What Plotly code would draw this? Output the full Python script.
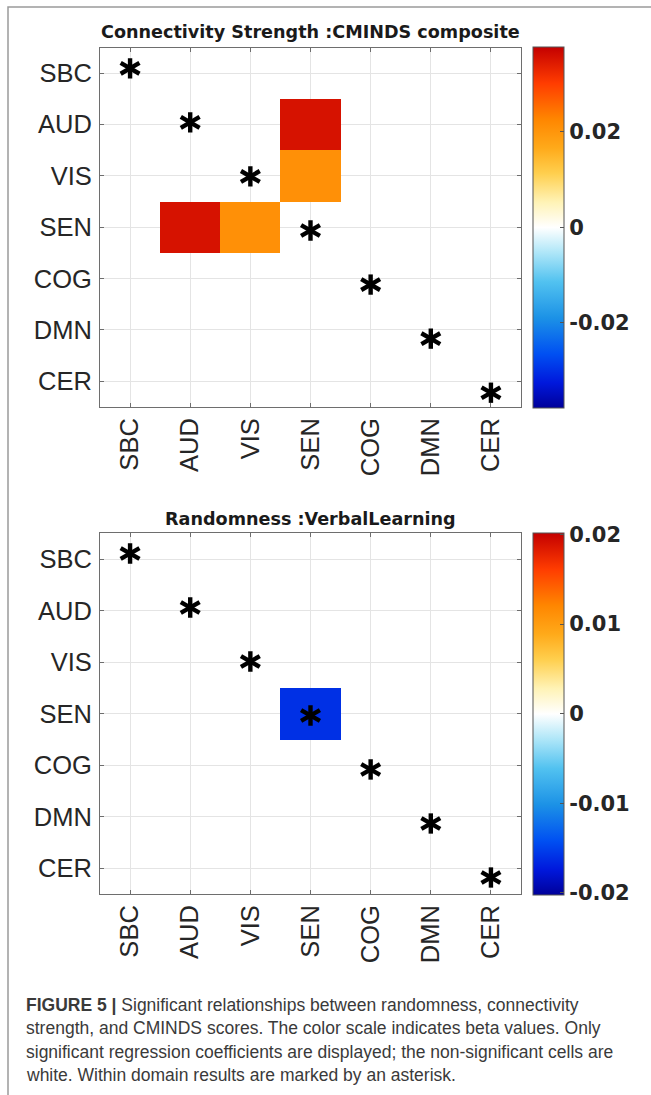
import plotly.graph_objects as go

W, H = 651, 1095

categories = ["SBC", "AUD", "VIS", "SEN", "COG", "DMN", "CER"]

# Beta values (rows = y categories top->bottom, cols = x categories); None = not significant
top_title = "Connectivity Strength :CMINDS composite"
top_values = [
    [None, None, None, None, None, None, None],
    [None, None, None, 0.0355, None, None, None],
    [None, None, None, 0.0210, None, None, None],
    [None, 0.0355, 0.0210, None, None, None, None],
    [None, None, None, None, None, None, None],
    [None, None, None, None, None, None, None],
    [None, None, None, None, None, None, None],
]
top_zlim = 0.0378
top_cb_ticks = [-0.02, 0, 0.02]
top_cb_labels = ["-0.02", "0", "0.02"]

bottom_title = "Randomness :VerbalLearning"
bottom_values = [
    [None, None, None, None, None, None, None],
    [None, None, None, None, None, None, None],
    [None, None, None, None, None, None, None],
    [None, None, None, -0.0160, None, None, None],
    [None, None, None, None, None, None, None],
    [None, None, None, None, None, None, None],
    [None, None, None, None, None, None, None],
]
bottom_zlim = 0.0202
bottom_cb_ticks = [-0.02, -0.01, 0, 0.01, 0.02]
bottom_cb_labels = ["-0.02", "-0.01", "0", "0.01", "0.02"]

# within-domain (diagonal) markers
diag_idx = list(range(len(categories)))

caption_lines = [
    "<b>FIGURE 5 |</b> Significant relationships between randomness, connectivity",
    "strength, and CMINDS scores. The color scale indicates beta values. Only",
    "significant regression coefficients are displayed; the non-significant cells are",
    "white. Within domain results are marked by an asterisk.",
]

colorscale = [
    [0.00, "#00009A"],
    [0.07, "#0018DC"],
    [0.15, "#0050F2"],
    [0.25, "#1C92E6"],
    [0.35, "#52C2F0"],
    [0.43, "#AEE6F8"],
    [0.50, "#FFFFFF"],
    [0.57, "#FFF3B6"],
    [0.65, "#FFCF4E"],
    [0.72, "#FFAA1A"],
    [0.80, "#FF8600"],
    [0.90, "#FF3C00"],
    [1.00, "#C40000"],
]

def px_x(p):
    return p / W

def px_y(p):
    return 1 - p / H

FONT = "Liberation Sans, Arial, sans-serif"
WIDE = "DejaVu Sans, Liberation Sans, sans-serif"
TXT = "#262626"

panels = [
    dict(values=top_values, zlim=top_zlim, ticks=top_cb_ticks, labels=top_cb_labels,
         title=top_title, top=47.5, bottom=407.0, title_y=32.0,
         star_top=68.3, star_step=54.07, xa="x", ya="y", ya_star="y3"),
    dict(values=bottom_values, zlim=bottom_zlim, ticks=bottom_cb_ticks, labels=bottom_cb_labels,
         title=bottom_title, top=533.3, bottom=894.0, title_y=519.0,
         star_top=553.5, star_step=54.0, xa="x2", ya="y2", ya_star="y4"),
]

plot_left, plot_right = 100.0, 521.0
cb_left, cb_thick = 533.0, 31

fig = go.Figure()
layout_axes = {}
annotations = []

for k, p in enumerate(panels):
    fig.add_trace(go.Heatmap(
        z=p["values"], x=diag_idx, y=diag_idx,
        xaxis=p["xa"], yaxis=p["ya"],
        colorscale=colorscale, zmin=-p["zlim"], zmax=p["zlim"],
        hoverongaps=False,
        colorbar=dict(
            x=px_x(cb_left), xanchor="left", xpad=0, ypad=0,
            y=px_y((p["top"] + p["bottom"]) / 2), yanchor="middle",
            len=p["bottom"] - p["top"] + 1, lenmode="pixels",
            thickness=cb_thick, thicknessmode="pixels",
            tickvals=p["ticks"], ticktext=p["labels"],
            tickfont=dict(family=WIDE, size=21, color=TXT, weight="bold"),
            ticks="inside", ticklen=4, tickcolor="#555555",
            outlinecolor="#555555", outlinewidth=1,
        ),
    ))
    # asterisks on an overlaying axis
    for ang, sz in [(0, 14.5), (60, 15.5), (-60, 15.5)]:
        fig.add_trace(go.Scatter(
            x=diag_idx, y=diag_idx, mode="markers",
            xaxis=p["xa"], yaxis=p["ya_star"],
            marker=dict(symbol="line-ns-open", size=sz, angle=ang, color="black",
                        line=dict(color="black", width=4.4)),
            hoverinfo="skip", showlegend=False,
        ))

    ydom = [px_y(p["bottom"]), px_y(p["top"])]
    axname_x = "xaxis" if p["xa"] == "x" else "xaxis2"
    axname_y = "yaxis" if p["ya"] == "y" else "yaxis2"
    axname_s = "yaxis3" if p["ya_star"] == "y3" else "yaxis4"
    common = dict(
        tickvals=diag_idx, ticktext=categories,
        tickfont=dict(family=FONT, size=25.5, color=TXT),
        showgrid=True, gridcolor="#E4E4E4", gridwidth=1,
        showline=True, linecolor="#6E6E6E", linewidth=1, mirror="ticks",
        ticks="inside", ticklen=4, tickcolor="#6E6E6E",
        zeroline=False, fixedrange=True,
    )
    layout_axes[axname_x] = dict(common, domain=[px_x(plot_left), px_x(plot_right)],
                                 anchor=p["ya"], range=[-0.5, 6.5], tickangle=-90,
                                 ticklabelstandoff=0)
    layout_axes[axname_y] = dict(common, domain=ydom, anchor=p["xa"],
                                 range=[6.5, -0.5], ticklabelstandoff=2)
    # star axis range so that marker i sits at star_top + i*star_step pixels
    span = (p["bottom"] - p["top"]) / p["star_step"]
    r0 = -(p["star_top"] - p["top"]) / p["star_step"]
    layout_axes[axname_s] = dict(overlaying=p["ya"], anchor=p["xa"], range=[r0 + span, r0],
                                 visible=False, fixedrange=True)

    annotations.append(dict(
        text="<b>" + p["title"] + "</b>", x=px_x((plot_left + plot_right) / 2),
        y=px_y(p["title_y"]), xref="paper", yref="paper",
        xanchor="center", yanchor="middle", showarrow=False,
        font=dict(family=WIDE, size=17.6, color="#1A1A1A"),
    ))

caption_y = [1005.0, 1028.3, 1051.6, 1075.0]
for line, yy in zip(caption_lines, caption_y):
    annotations.append(dict(
        text=line, x=px_x(24), y=px_y(yy), xref="paper", yref="paper",
        xanchor="left", yanchor="middle", showarrow=False,
        font=dict(family=FONT, size=17.5, color="#3A3A3A"),
    ))

fig.update_layout(
    width=W, height=H, margin=dict(l=0, r=0, t=0, b=0),
    paper_bgcolor="white", plot_bgcolor="white",
    showlegend=False, annotations=annotations,
    shapes=[dict(type="rect", xref="paper", yref="paper",
                 x0=px_x(8), x1=1.05, y0=-0.05, y1=px_y(7),
                 line=dict(color="#9A9A9A", width=1.5), layer="above")],
    **layout_axes,
)

fig.write_html("out.html")
